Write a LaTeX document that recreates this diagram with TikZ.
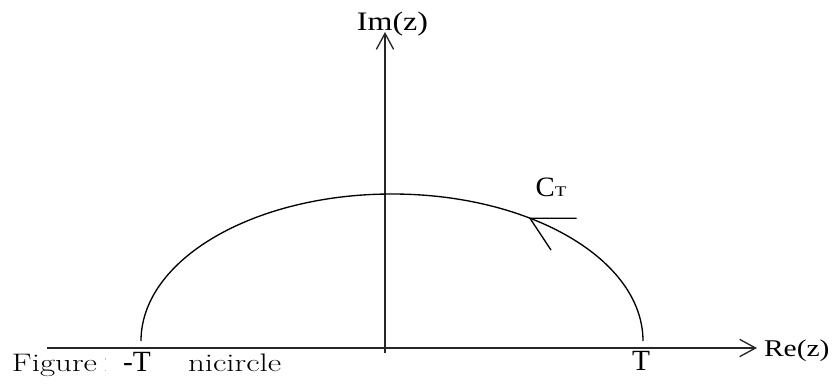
\documentclass[tikz,border=0pt]{standalone}
\usepackage{fontspec}
\usetikzlibrary{arrows.meta}
\newfontfamily\tms{Liberation Serif}
\newcommand\mytxt[3]{\scalebox{#1}[1]{\fontsize{#2}{#2}\selectfont\tms #3}}
\newcommand\captxt[1]{\scalebox{1.3}[1]{\fontsize{19}{19}\selectfont #1}}
\tikzset{
  axis/.style={line width=1.1pt, draw=black!85},
  curve/.style={line width=1pt, draw=black},
  barb/.style={-{Straight Barb[length=12pt,width=13pt,line width=1pt]}},
  lbl/.style={inner sep=0pt, outer sep=0pt},
}
\begin{document}
\begin{tikzpicture}[x=0.75pt, y=-0.75pt]
\useasboundingbox (0,0) rectangle (833,383);
% axes
\coordinate (xl) at (47,348);
\coordinate (xr) at (757,348);
\coordinate (yb) at (385,352.7);
\coordinate (yt) at (385,32);
\draw[axis, barb] (xl) -- (xr);
\draw[axis, barb] (yb) -- (yt);
\node[lbl, anchor=base west] (re) at (764,356.7) {\mytxt{1.23}{18}{Re(z)}};
\node[lbl, anchor=base] (im) at (392.5,30) {\mytxt{1.2}{20}{Im(z)}};
% semicircle
\coordinate (al) at (141,341);
\draw[curve] (al) arc[start angle=180, end angle=360, x radius=251, y radius=147] coordinate (ar);
% arrowhead on arc
\coordinate (tip) at (530,218.3);
\coordinate (h1) at (576.7,218.3);
\coordinate (h2) at (551,250);
\draw[curve] (h1) -- (tip) -- (h2);
\node[lbl, anchor=base west] (ct) at (535.7,196.7) {\mytxt{1.03}{21}{C}\mytxt{1.3}{11}{T}};
% caption, partly hidden
\begin{scope}
  \clip (0,340) rectangle (105.5,383);
  \node[lbl, anchor=base west] (cap1) at (12,371) {\captxt{Figure\hspace{0.22em}2}};
\end{scope}
\node[lbl, anchor=base west] (cap2) at (188,371) {\captxt{nicircle}};
% labels on real axis
\node[lbl, anchor=base west] (mt) at (123,371) {\mytxt{1.0}{22}{-T}};
\node[lbl, anchor=base] (pt) at (641,370) {\mytxt{1.0}{22}{T}};
\end{tikzpicture}
\end{document}
